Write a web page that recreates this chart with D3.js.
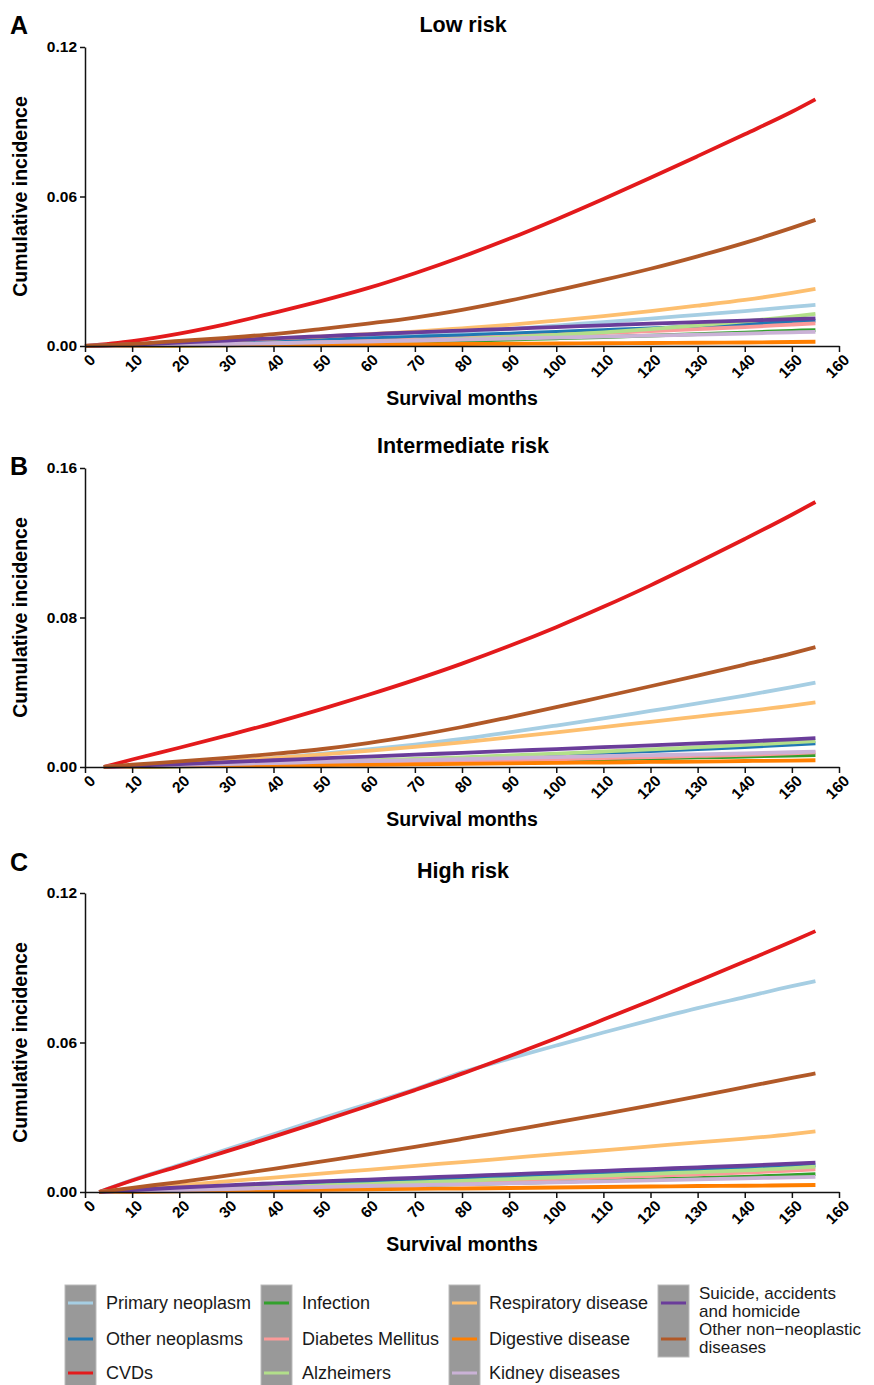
<!DOCTYPE html>
<html>
<head>
<meta charset="utf-8">
<script src="https://cdn.jsdelivr.net/npm/d3@7"></script>
<style>
  body { margin: 0; background: #fff; }
  svg { display: block; font-family: "Liberation Sans", Arial, sans-serif; }
</style>
</head>
<body>
<div id="chart"></div>
<script>
// Causes of death, in legend / drawing order
const causes = ["Primary neoplasm", "Other neoplasms", "CVDs", "Infection", "Diabetes Mellitus",
  "Alzheimers", "Respiratory disease", "Digestive disease", "Kidney diseases",
  "Suicide, accidents and homicide", "Other non\u2212neoplastic diseases"];
const colors = ["#a6cee3", "#1f78b4", "#e31a1c", "#33a02c", "#fb9a99",
  "#b2df8a", "#fdbf6f", "#ff7f00", "#cab2d6", "#6a3d9a", "#b15928"];

const xTicks = [0, 10, 20, 30, 40, 50, 60, 70, 80, 90, 100, 110, 120, 130, 140, 150, 160];
const yTicksLow = [0, 0.06, 0.12];
const yTicksInter = [0, 0.08, 0.16];
const yTicksHigh = [0, 0.06, 0.12];

// Low risk
const monthsLow = [0, 10, 20, 30, 40, 50, 60, 70, 80, 90, 100, 110, 120, 130, 140, 150, 155];
const lowRisk = [
  [0, 0.0002, 0.0006, 0.0012, 0.0020, 0.0028, 0.0037, 0.0046, 0.0056, 0.0068, 0.0082, 0.0096, 0.0110, 0.0125, 0.0140, 0.0157, 0.0165],
  [0, 0.0003, 0.0008, 0.0013, 0.0019, 0.0025, 0.0031, 0.0037, 0.0043, 0.0050, 0.0057, 0.0064, 0.0071, 0.0079, 0.0087, 0.0097, 0.0102],
  [0, 0.0020, 0.0050, 0.0088, 0.0133, 0.0180, 0.0232, 0.0292, 0.0358, 0.0430, 0.0508, 0.0590, 0.0675, 0.0762, 0.0850, 0.0940, 0.0990],
  [0, 0.0001, 0.0002, 0.0004, 0.0007, 0.0010, 0.0013, 0.0017, 0.0021, 0.0026, 0.0031, 0.0036, 0.0042, 0.0048, 0.0054, 0.0061, 0.0064],
  [0, 0.0001, 0.0003, 0.0006, 0.0010, 0.0014, 0.0019, 0.0025, 0.0031, 0.0038, 0.0045, 0.0052, 0.0060, 0.0068, 0.0076, 0.0086, 0.0091],
  [0, 0.0000, 0.0001, 0.0003, 0.0006, 0.0010, 0.0015, 0.0021, 0.0028, 0.0036, 0.0045, 0.0055, 0.0068, 0.0083, 0.0099, 0.0118, 0.0129],
  [0, 0.0006, 0.0014, 0.0023, 0.0030, 0.0038, 0.0048, 0.0058, 0.0071, 0.0085, 0.0102, 0.0120, 0.0140, 0.0162, 0.0185, 0.0213, 0.0229],
  [0, 0.0001, 0.0002, 0.0003, 0.0004, 0.0005, 0.0006, 0.0007, 0.0008, 0.0009, 0.0010, 0.0011, 0.0012, 0.0013, 0.0014, 0.0016, 0.0017],
  [0, 0.0002, 0.0005, 0.0008, 0.0011, 0.0015, 0.0018, 0.0022, 0.0026, 0.0030, 0.0034, 0.0038, 0.0042, 0.0046, 0.0050, 0.0055, 0.0057],
  [0, 0.0006, 0.0014, 0.0022, 0.0031, 0.0039, 0.0047, 0.0055, 0.0062, 0.0069, 0.0076, 0.0083, 0.0090, 0.0096, 0.0102, 0.0108, 0.0111],
  [0, 0.0008, 0.0020, 0.0033, 0.0048, 0.0068, 0.0090, 0.0114, 0.0145, 0.0182, 0.0223, 0.0265, 0.0310, 0.0360, 0.0414, 0.0474, 0.0506]
];

// Intermediate risk
const monthsInter = [4, 10, 20, 30, 40, 50, 60, 70, 80, 90, 100, 110, 120, 130, 140, 150, 155];
const intermediateRisk = [
  [0, 0.0006, 0.0016, 0.0030, 0.0048, 0.0070, 0.0094, 0.0120, 0.0150, 0.0185, 0.0222, 0.0260, 0.0300, 0.0340, 0.0382, 0.0428, 0.0452],
  [0, 0.0002, 0.0006, 0.0011, 0.0017, 0.0024, 0.0031, 0.0039, 0.0047, 0.0056, 0.0065, 0.0075, 0.0085, 0.0096, 0.0107, 0.0120, 0.0127],
  [0, 0.0040, 0.0103, 0.0168, 0.0235, 0.0308, 0.0385, 0.0466, 0.0553, 0.0647, 0.0748, 0.0857, 0.0972, 0.1094, 0.1220, 0.1350, 0.1418],
  [0, 0.0001, 0.0003, 0.0006, 0.0009, 0.0013, 0.0017, 0.0021, 0.0026, 0.0031, 0.0036, 0.0041, 0.0046, 0.0051, 0.0056, 0.0061, 0.0064],
  [0, 0.0002, 0.0005, 0.0009, 0.0013, 0.0017, 0.0022, 0.0026, 0.0031, 0.0036, 0.0041, 0.0047, 0.0053, 0.0059, 0.0065, 0.0073, 0.0078],
  [0, 0.0003, 0.0008, 0.0014, 0.0020, 0.0027, 0.0035, 0.0043, 0.0052, 0.0062, 0.0072, 0.0083, 0.0094, 0.0106, 0.0118, 0.0132, 0.0139],
  [0, 0.0008, 0.0018, 0.0032, 0.0048, 0.0066, 0.0086, 0.0108, 0.0132, 0.0158, 0.0185, 0.0213, 0.0242, 0.0270, 0.0298, 0.0328, 0.0346],
  [0, 0.0002, 0.0004, 0.0006, 0.0008, 0.0010, 0.0012, 0.0014, 0.0017, 0.0019, 0.0022, 0.0024, 0.0027, 0.0029, 0.0032, 0.0034, 0.0036],
  [0, 0.0004, 0.0010, 0.0016, 0.0021, 0.0027, 0.0032, 0.0037, 0.0042, 0.0048, 0.0053, 0.0058, 0.0063, 0.0068, 0.0073, 0.0079, 0.0082],
  [0, 0.0006, 0.0016, 0.0026, 0.0036, 0.0046, 0.0056, 0.0066, 0.0076, 0.0086, 0.0096, 0.0106, 0.0116, 0.0126, 0.0136, 0.0148, 0.0154],
  [0, 0.0012, 0.0030, 0.0049, 0.0070, 0.0095, 0.0128, 0.0168, 0.0214, 0.0266, 0.0320, 0.0376, 0.0432, 0.0489, 0.0548, 0.0608, 0.0641]
];

// High risk
const monthsHigh = [3, 10, 20, 30, 40, 50, 60, 70, 80, 90, 100, 110, 120, 130, 140, 150, 155];
const highRisk = [
  [0, 0.0048, 0.0108, 0.0170, 0.0232, 0.0294, 0.0353, 0.0412, 0.0480, 0.0535, 0.0588, 0.0640, 0.0690, 0.0738, 0.0782, 0.0826, 0.0846],
  [0, 0.0004, 0.0010, 0.0017, 0.0024, 0.0031, 0.0038, 0.0045, 0.0052, 0.0059, 0.0066, 0.0073, 0.0080, 0.0087, 0.0094, 0.0102, 0.0107],
  [0, 0.0046, 0.0104, 0.0163, 0.0222, 0.0283, 0.0345, 0.0409, 0.0475, 0.0545, 0.0617, 0.0692, 0.0768, 0.0846, 0.0925, 0.1005, 0.1047],
  [0, 0.0003, 0.0007, 0.0011, 0.0015, 0.0019, 0.0023, 0.0027, 0.0032, 0.0036, 0.0041, 0.0046, 0.0051, 0.0056, 0.0061, 0.0068, 0.0072],
  [0, 0.0003, 0.0007, 0.0012, 0.0017, 0.0022, 0.0028, 0.0034, 0.0040, 0.0046, 0.0052, 0.0058, 0.0065, 0.0071, 0.0078, 0.0086, 0.0091],
  [0, 0.0003, 0.0008, 0.0014, 0.0020, 0.0026, 0.0032, 0.0039, 0.0045, 0.0052, 0.0059, 0.0066, 0.0073, 0.0080, 0.0087, 0.0096, 0.0102],
  [0, 0.0011, 0.0027, 0.0043, 0.0058, 0.0074, 0.0089, 0.0105, 0.0120, 0.0136, 0.0152, 0.0167, 0.0183, 0.0199, 0.0214, 0.0232, 0.0243],
  [0, 0.0001, 0.0003, 0.0005, 0.0007, 0.0009, 0.0011, 0.0013, 0.0014, 0.0016, 0.0018, 0.0020, 0.0022, 0.0024, 0.0025, 0.0027, 0.0028],
  [0, 0.0004, 0.0008, 0.0012, 0.0016, 0.0020, 0.0024, 0.0027, 0.0031, 0.0035, 0.0039, 0.0043, 0.0047, 0.0051, 0.0055, 0.0059, 0.0061],
  [0, 0.0008, 0.0018, 0.0027, 0.0035, 0.0043, 0.0050, 0.0057, 0.0064, 0.0071, 0.0078, 0.0085, 0.0092, 0.0099, 0.0106, 0.0114, 0.0118],
  [0, 0.0017, 0.0040, 0.0066, 0.0093, 0.0122, 0.0151, 0.0181, 0.0213, 0.0246, 0.0279, 0.0313, 0.0348, 0.0384, 0.0421, 0.0458, 0.0476]
];

const width = 874, height = 1385;
const plotLeft = 85, plotRight = 839, plotH = 299;

const svg = d3.select("#chart").append("svg")
  .attr("width", width)
  .attr("height", height);

const panels = [
  { letter: "A", title: "Low risk", top: 47, yMax: 0.12, yTicks: yTicksLow, months: monthsLow, data: lowRisk, letterY: 34, titleY: 32 },
  { letter: "B", title: "Intermediate risk", top: 468, yMax: 0.16, yTicks: yTicksInter, months: monthsInter, data: intermediateRisk, letterY: 475, titleY: 453 },
  { letter: "C", title: "High risk", top: 893, yMax: 0.12, yTicks: yTicksHigh, months: monthsHigh, data: highRisk, letterY: 871, titleY: 878 }
];

function drawPanel(p) {
  const bottom = p.top + plotH;
  const x = d3.scaleLinear().domain([0, 160]).range([plotLeft, plotRight]);
  const y = d3.scaleLinear().domain([0, p.yMax]).range([bottom, p.top]);

  // Panel letter and title
  svg.append("text")
    .attr("x", 10).attr("y", p.letterY)
    .style("font-size", "25px").style("font-weight", "bold")
    .text(p.letter);

  svg.append("text")
    .attr("x", 463).attr("y", p.titleY)
    .attr("text-anchor", "middle")
    .style("font-size", "21.5px").style("font-weight", "bold")
    .text(p.title);

  // Lines
  const line = d3.line()
    .x((d, i) => x(p.months[i]))
    .y(d => y(d))
    .curve(d3.curveMonotoneX);

  svg.append("g").selectAll("path")
    .data(p.data)
    .enter().append("path")
    .attr("d", d => line(d))
    .attr("fill", "none")
    .attr("stroke", (d, i) => colors[i])
    .attr("stroke-width", 3.8);

  // X axis
  const xAxis = svg.append("g")
    .attr("transform", "translate(0," + bottom + ")")
    .call(d3.axisBottom(x).tickValues(xTicks).tickSize(6).tickSizeOuter(0));
  xAxis.selectAll("text")
    .attr("x", 0).attr("y", 0).attr("dy", "0.35em")
    .attr("text-anchor", "end")
    .attr("transform", "translate(7,11) rotate(-45)")
    .style("font-size", "15.5px").style("font-weight", "bold").style("fill", "#000");

  // Y axis
  const yAxis = svg.append("g")
    .attr("transform", "translate(" + plotLeft + ",0)")
    .call(d3.axisLeft(y).tickValues(p.yTicks).tickFormat(d3.format(".2f")).tickSize(5).tickSizeOuter(0));
  yAxis.selectAll("text")
    .attr("x", -8)
    .style("font-size", "15.5px").style("font-weight", "bold").style("fill", "#000");

  svg.selectAll(".domain, .tick line")
    .attr("stroke", "#111").attr("stroke-width", 1.5);

  // Axis titles
  svg.append("text")
    .attr("x", 462).attr("y", bottom + 59)
    .attr("text-anchor", "middle")
    .style("font-size", "19.5px").style("font-weight", "bold")
    .text("Survival months");

  svg.append("text")
    .attr("transform", "translate(27," + (p.top + plotH / 2) + ") rotate(-90)")
    .attr("text-anchor", "middle")
    .style("font-size", "19.5px").style("font-weight", "bold")
    .text("Cumulative incidence");
}

panels.forEach(drawPanel);

// Legend
const legendCols = [
  { boxX: 65, textX: 106, items: [0, 1, 2], boxH: 110 },
  { boxX: 261, textX: 302, items: [3, 4, 5], boxH: 110 },
  { boxX: 449, textX: 489, items: [6, 7, 8], boxH: 110 },
  { boxX: 658, textX: 699, items: [9, 10], boxH: 72 }
];
const legendTop = 1285, rowY = [1303, 1339, 1373];
const wrapped = { 9: ["Suicide, accidents", "and homicide"], 10: ["Other non\u2212neoplastic", "diseases"] };

const legend = svg.append("g");
legendCols.forEach(col => {
  legend.append("rect")
    .attr("x", col.boxX).attr("y", legendTop)
    .attr("width", 31).attr("height", col.boxH)
    .attr("fill", "#999").attr("stroke", "#bbb");
  col.items.forEach((k, j) => {
    legend.append("line")
      .attr("x1", col.boxX + 3).attr("x2", col.boxX + 28)
      .attr("y1", rowY[j]).attr("y2", rowY[j])
      .attr("stroke", colors[k]).attr("stroke-width", 3);
    if (wrapped[k]) {
      wrapped[k].forEach((s, n) => {
        legend.append("text")
          .attr("x", col.textX)
          .attr("y", rowY[j] - 10 + n * 18.5)
          .attr("dy", "0.35em")
          .style("font-size", "17px").style("fill", "#1a1a1a")
          .text(s);
      });
    } else {
      legend.append("text")
        .attr("x", col.textX)
        .attr("y", rowY[j]).attr("dy", "0.35em")
        .style("font-size", "18px").style("fill", "#1a1a1a")
        .text(causes[k]);
    }
  });
});
</script>
</body>
</html>
